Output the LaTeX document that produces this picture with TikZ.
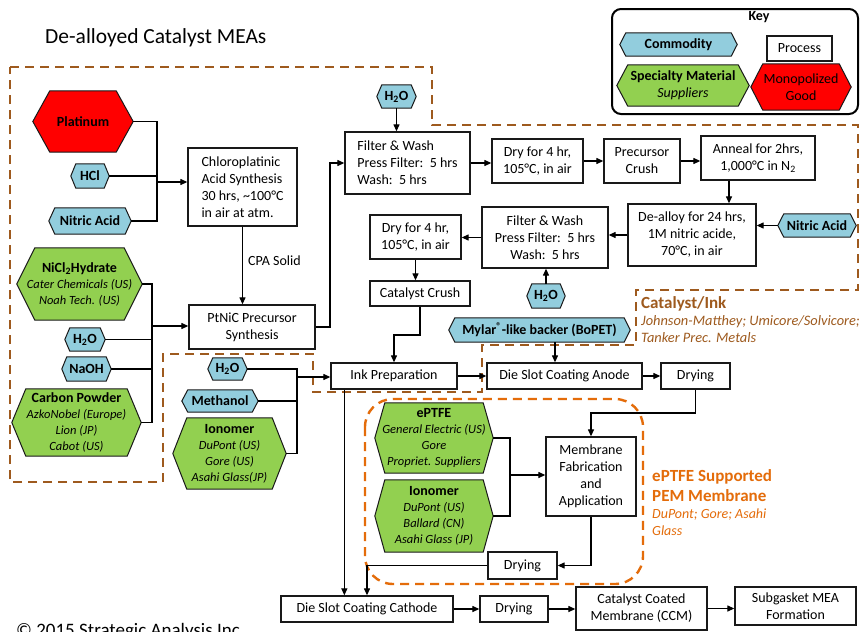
\documentclass[tikz,border=0pt]{standalone}
\usepackage{fontspec}
\setmainfont{Carlito}
\usetikzlibrary{arrows.meta,backgrounds}

\definecolor{commodity}{RGB}{146,205,221}
\definecolor{specialty}{RGB}{146,208,80}
\definecolor{monopoly}{RGB}{255,0,0}
\definecolor{regionbrown}{RGB}{158,90,30}
\definecolor{regionorange}{RGB}{228,108,10}
\definecolor{edgegray}{RGB}{25,25,25}

\newcommand\setsz[2]{\fontsize{#1pt}{#2pt}\selectfont}
\newcommand\supl[1]{{\mdseries\itshape\setsz{12.5}{16}#1}}
% hexagon outline around a named node: points sit on the node's west/east anchors
\newcommand\hexframe[3]{%
  \draw[hexedge, fill=#2] ([xshift=#3]#1.north west) -- ([xshift=-#3]#1.north east)
    -- (#1.east) -- ([xshift=-#3]#1.south east) -- ([xshift=#3]#1.south west)
    -- (#1.west) -- cycle;}

\pgfdeclarelayer{paper}
\pgfsetlayers{paper,background,main}

\tikzset{
  dims/.style 2 args={minimum width=#1pt, minimum height=#2pt},
  proc/.style={draw=edgegray, line width=1.3pt, fill=white, inner sep=0pt,
    align=center, font=\setsz{14}{17}},
  hexn/.style={inner sep=0pt, align=center, font=\bfseries\setsz{14}{16}},
  hexedge/.style={draw=edgegray, line width=1pt},
  wire/.style={draw=black, line width=1.2pt},
  arr/.style={wire, -{Triangle[length=7pt,width=6pt]}},
  browndash/.style={draw=regionbrown, line width=2.6pt, dash pattern=on 9pt off 6pt},
  orangedash/.style={draw=regionorange, line width=2.4pt, dash pattern=on 9pt off 6pt,
    rounded corners=28pt},
}

\begin{document}
\begin{tikzpicture}[x=1pt,y=-1pt]
\useasboundingbox (0,0) rectangle (860,632);
\begin{pgfonlayer}{paper}
  \fill[white] (0,0) rectangle (860,632);
\end{pgfonlayer}

% ---------- headings ----------
\node[anchor=base west, inner sep=0pt, font=\setsz{21.5}{24}] (title) at (45,43) {De-alloyed Catalyst MEAs};
\node[anchor=base west, inner sep=0pt, font=\setsz{19}{22}] (copyr) at (16,636) {© 2015 Strategic Analysis Inc.};

% ---------- key ----------
\draw[line width=2pt, rounded corners=9pt] (612,9) rectangle (858,114);
\node[font=\bfseries\setsz{14}{16}] (keytitle) at (759,17) {Key};
\node[hexn, dims={117}{23}] (kcomm) at (678.5,44.5) {Commodity};
\node[proc, dims={65}{25}] (kproc) at (799.5,48.5) {Process};
\node[hexn, dims={132}{41}, font=\bfseries\setsz{14}{17}] (kspec) at (683,85.5) {Specialty Material\\{\mdseries\itshape Suppliers}};
\node[hexn, dims={100}{46}, font=\setsz{14}{17}] (kmono) at (801,87) {Monopolized\\Good};

% ---------- raw materials ----------
\node[hexn, dims={100}{61}] (plat) at (83,121.5) {Platinum};
\node[hexn, dims={38}{24}] (hcl) at (90,176) {HCl};
\node[hexn, dims={82}{26}] (nitl) at (90,221) {Nitric Acid};
\node[hexn, dims={125}{72}] (nicl) at (79.5,284) {NiCl\textsubscript{2}Hydrate\\\supl{Cater Chemicals (US)}\\\supl{Noah Tech. (US)}};
\node[hexn, dims={40}{23}] (h2oa) at (85,339.5) {H\textsubscript{2}O};
\node[hexn, dims={49}{24}] (naoh) at (86.5,369) {NaOH};
\node[hexn, dims={129}{67}] (carb) at (76.5,422.5) {Carbon Powder\\\supl{AzkoNobel (Europe)}\\\supl{Lion (JP)}\\\supl{Cabot (US)}};
\node[hexn, dims={39}{22}] (h2od) at (227.5,369) {H\textsubscript{2}O};
\node[hexn, dims={76}{22}] (meth) at (220,401) {Methanol};
\node[hexn, dims={113}{71}] (iono1) at (229.5,453.5) {Ionomer\\\supl{DuPont (US)}\\\supl{Gore (US)}\\\supl{Asahi Glass(JP)}};
\node[hexn, dims={39}{23}] (h2ob) at (396.5,96.5) {H\textsubscript{2}O};
\node[hexn, dims={78}{23}] (nitr) at (817,225.5) {Nitric Acid};
\node[hexn, dims={38}{24}] (h2oc) at (546,296) {H\textsubscript{2}O};
\node[hexn, dims={181}{24}] (mylar) at (539.5,330) {Mylar\textsuperscript{®}-like backer (BoPET)};
\node[hexn, dims={118}{70}] (eptfe) at (434,438) {ePTFE\\\supl{General Electric (US)}\\\supl{Gore}\\\supl{Propriet. Suppliers}};
\node[hexn, dims={118}{72}] (iono2) at (434,516) {Ionomer\\\supl{DuPont (US)}\\\supl{Ballard (CN)}\\\supl{Asahi Glass (JP)}};

% ---------- process steps ----------
\node[proc, dims={109}{78}, align=left] (cpa) at (242.5,187) {Chloroplatinic\\Acid Synthesis\\30 hrs, \textasciitilde100°C\\in air at atm.};
\node[proc, dims={126}{44}] (ptnic) at (252,327) {PtNiC Precursor\\Synthesis};
\node[proc, dims={125}{62}, align=left] (fw1) at (407.5,163) {Filter \& Wash\\Press Filter:~~5 hrs\\Wash:~~5 hrs};
\node[proc, dims={91}{44}] (dry1) at (537.5,161) {Dry for 4 hr,\\105°C, in air};
\node[proc, dims={76}{44}] (crush1) at (642,161) {Precursor\\Crush};
\node[proc, dims={114}{44}] (anneal) at (758,158) {Anneal for 2hrs,\\1,000°C in N\textsubscript{2}};
\node[proc, dims={128}{62}] (dealloy) at (692,235) {De-alloy for 24 hrs,\\1M nitric acide,\\70°C, in air};
\node[proc, dims={126}{61}] (fw2) at (545,237.5) {Filter \& Wash\\Press Filter:~~5 hrs\\Wash:~~5 hrs};
\node[proc, dims={91}{44}] (dry2) at (415.5,237) {Dry for 4 hr,\\105°C, in air};
\node[proc, dims={100}{25}] (crush2) at (420,293.5) {Catalyst Crush};
\node[proc, dims={126}{26}] (ink) at (394,376) {Ink Preparation};
\node[proc, dims={155}{26}] (anode) at (564.5,376) {Die Slot Coating Anode};
\node[proc, dims={69}{26}] (drya) at (695.5,376) {Drying};
\node[proc, dims={90}{79}] (memb) at (591,476.5) {Membrane\\Fabrication\\and\\Application};
\node[proc, dims={69}{27}] (dryb) at (522.5,565.5) {Drying};
\node[proc, dims={172}{26}] (cath) at (367,609) {Die Slot Coating Cathode};
\node[proc, dims={68}{26}] (dryc) at (514,609) {Drying};
\node[proc, dims={131}{43}] (ccm) at (641.5,608.5) {Catalyst Coated\\Membrane (CCM)};
\node[proc, dims={121}{38}] (subg) at (795.5,606) {Subgasket MEA\\Formation};

% ---------- region labels ----------
\node[anchor=base west, inner sep=0pt, text=regionbrown, font=\bfseries\setsz{17}{20}] (catl1) at (641,308) {Catalyst/Ink};
\node[anchor=base west, inner sep=0pt, text=regionbrown, font=\itshape\setsz{14.4}{17}] (catl2) at (641,325) {Johnson-Matthey; Umicore/Solvicore;};
\node[anchor=base west, inner sep=0pt, text=regionbrown, font=\itshape\setsz{14.4}{17}] (catl3) at (641,342) {Tanker Prec. Metals};
\node[anchor=base west, inner sep=0pt, text=regionorange, font=\bfseries\setsz{17}{20}] (peml1) at (652,481) {ePTFE Supported};
\node[anchor=base west, inner sep=0pt, text=regionorange, font=\bfseries\setsz{17}{20}] (peml2) at (652,501) {PEM Membrane};
\node[anchor=base west, inner sep=0pt, text=regionorange, font=\itshape\setsz{14}{17}] (peml3) at (652,518) {DuPont; Gore; Asahi};
\node[anchor=base west, inner sep=0pt, text=regionorange, font=\itshape\setsz{14}{17}] (peml4) at (652,535) {Glass};

% ---------- hexagon outlines and region borders ----------
\begin{scope}[on background layer]
  \draw[browndash] (10,67) -- (432,67) -- (432,125) -- (858,125) -- (858,290)
    -- (636,290) -- (636,345) -- (482,345) -- (482,392) -- (313,392) -- (313,354)
    -- (163,354) -- (163,482) -- (10,482) -- cycle;
  \draw[orangedash] (365,399) rectangle (643,584);
  \hexframe{kcomm}{commodity}{6pt}
  \hexframe{kspec}{specialty}{11pt}
  \hexframe{kmono}{monopoly}{12pt}
  \hexframe{plat}{monopoly}{17pt}
  \hexframe{hcl}{commodity}{5pt}
  \hexframe{nitl}{commodity}{6pt}
  \hexframe{nicl}{specialty}{18pt}
  \hexframe{h2oa}{commodity}{5pt}
  \hexframe{naoh}{commodity}{5pt}
  \hexframe{carb}{specialty}{14pt}
  \hexframe{h2od}{commodity}{5pt}
  \hexframe{meth}{commodity}{6pt}
  \hexframe{iono1}{specialty}{14pt}
  \hexframe{h2ob}{commodity}{5pt}
  \hexframe{nitr}{commodity}{6pt}
  \hexframe{h2oc}{commodity}{5pt}
  \hexframe{mylar}{commodity}{6pt}
  \hexframe{eptfe}{specialty}{10pt}
  \hexframe{iono2}{specialty}{10pt}
\end{scope}

% ---------- junction points ----------
\coordinate (j1) at (157,182);
\coordinate (j2) at (152,326);
\coordinate (j3) at (330,327);
\coordinate (j4) at (394,335);
\coordinate (j5) at (297,377);
\coordinate (j6) at (591,413);
\coordinate (j7) at (510,475);

% ---------- connectors ----------
\draw[wire] (plat.east) -| (j1);
\draw[wire] (nitl.east) -| (j1);
\draw[wire] (hcl.east) -- (hcl.east -| j1);
\draw[arr] (j1) -- (j1 -| cpa.west);
\draw[arr] (cpa.south) -- (cpa.south |- ptnic.north);
\node[anchor=west, inner sep=0pt, font=\setsz{14}{17}] (cpalbl) at (248,261) {CPA Solid};

\draw[wire] (nicl.east) -| (j2);
\draw[wire] (carb.east) -| (j2);
\draw[wire] (h2oa.east) -- (h2oa.east -| j2);
\draw[wire] (naoh.east) -- (naoh.east -| j2);
\draw[arr] (j2) -- (j2 -| ptnic.west);

\draw[arr] (ptnic.east) -- (j3) |- (fw1.west);
\draw[arr] (h2ob.south) -- (h2ob.south |- fw1.north);
\draw[arr] (fw1.east) -- (fw1.east -| dry1.west);
\draw[arr] (dry1.east) -- (crush1.west);
\draw[arr] (crush1.east) -- (crush1.east -| anneal.west);
\draw[arr] ([xshift=-29pt]anneal.south) -- ([xshift=-29pt]anneal.south |- dealloy.north);
\draw[arr] (nitr.west) -- (nitr.west -| dealloy.east);
\draw[arr] (dealloy.west) -- (dealloy.west -| fw2.east);
\draw[arr] (h2oc.north) -- (h2oc.north |- fw2.south);
\draw[arr] (fw2.west) -- (fw2.west -| dry2.east);
\draw[arr] (dry2.south) -- (dry2.south |- crush2.north);
\draw[arr] (crush2.south) |- (j4) -- (j4 |- ink.north);

\draw[wire] (h2od.east) -| (j5);
\draw[wire] (iono1.east) -| (j5);
\draw[wire] (meth.east) -- (meth.east -| j5);
\draw[arr] (j5) -- (j5 -| ink.west);

\draw[arr] (ink.east) -- (anode.west);
\draw[arr] ([xshift=15.5pt]mylar.south) -- ([xshift=15.5pt]mylar.south |- anode.north);
\draw[arr] (anode.east) -- (drya.west);
\draw[arr] (drya.south) |- (j6) -- (memb.north);

\draw[wire] (eptfe.east) -| (j7);
\draw[wire] (iono2.east) -| (j7);
\draw[arr] (j7) -- (j7 -| memb.west);
\draw[arr] (memb.south) |- (dryb.east);
\draw[arr] (dryb.west) -| (cath.north);
\draw[arr] ([xshift=14pt]ink.south west) -- ([xshift=14pt]ink.south west |- cath.north);

\draw[arr] (cath.east) -- (dryc.west);
\draw[arr] (dryc.east) -- (dryc.east -| ccm.west);
\draw[arr] (ccm.east) -- (ccm.east -| subg.west);
\end{tikzpicture}
\end{document}
